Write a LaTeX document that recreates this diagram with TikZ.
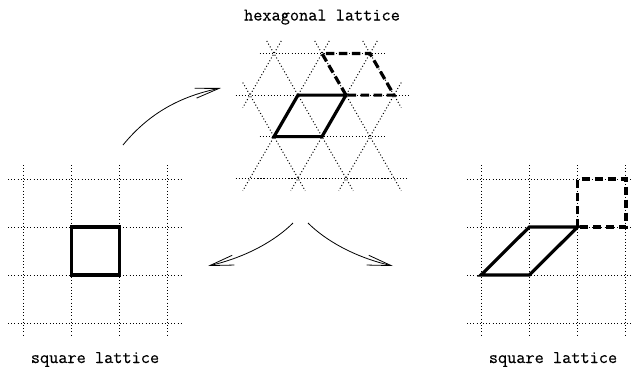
\documentclass[tikz,border=0pt]{standalone}
\usepackage{fontspec}
\setmonofont{Latin Modern Mono}[FakeBold=0.4]
\usetikzlibrary{arrows.meta,calc}
\newcommand\extline[2]{\draw[grid] ($(#1)!-14.5pt!(#2)$) -- ($(#2)!-14.5pt!(#1)$);}
\begin{document}
\begin{tikzpicture}[x=1pt,y=-1pt,
  grid/.style={line width=1pt, dash pattern=on 1pt off 2.2pt},
  gridb/.style={line width=1.3pt, dash pattern=on 1.3pt off 1.8pt},
  cell/.style={line width=3.2pt, line join=miter},
  dcell/.style={line width=3.2pt, dash pattern=on 8.5pt off 4.5pt},
  arr/.style={line width=0.8pt, -{Straight Barb[length=24pt,width=10pt]}},
  lbl/.style={font=\ttfamily\fontsize{17.8}{20}\selectfont, anchor=base, inner sep=0pt}]
\useasboundingbox (0,0) rectangle (633,367);

% left square lattice
\foreach \i in {0,...,3} {
  \draw[grid] ({23+48.3*\i},165) -- ({23+48.3*\i},337);
  \draw[grid] (8,{179+48*\i}) -- (181,{179+48*\i});
}
\coordinate (sqA) at (71.3,227);
\coordinate (sqB) at (119.6,275);
\draw[cell] (sqA) rectangle (sqB);

% right square lattice
\foreach \i in {0,...,3} {
  \draw[grid] ({481+48.3*\i},165) -- ({481+48.3*\i},337);
  \draw[grid] (467,{179+48*\i}) -- (633,{179+48*\i});
}
\coordinate (pA) at (481,275);
\coordinate (pB) at (529.3,275);
\coordinate (pC) at (577.6,227);
\coordinate (pD) at (529.3,227);
\coordinate (dA) at (577.6,179);
\coordinate (dB) at (625.9,179);
\coordinate (dC) at (625.9,227);
\draw[cell] (pA) -- (pB) -- (pC) -- (pD) -- cycle;
\draw[dcell] (pC) -- (dA) -- (dB) -- (dC) -- cycle;

% hexagonal lattice points
\foreach \x [count=\i from 0] in {274,322,370} {
  \coordinate (h0\i) at (\x,53.5);
  \coordinate (h2\i) at (\x,136.6);
}
\foreach \x [count=\i from 0] in {250,298,346,394} {
  \coordinate (h1\i) at (\x,95.1);
  \coordinate (h3\i) at (\x,178.2);
}
\extline{h00}{h02}
\extline{h10}{h13}
\extline{h20}{h22}
\draw[gridb] ($(h30)!-14.5pt!(h33)$) -- ($(h33)!-14.5pt!(h30)$);
\extline{h10}{h31}
\extline{h00}{h32}
\extline{h01}{h33}
\extline{h02}{h13}
\extline{h00}{h10}
\extline{h01}{h30}
\extline{h02}{h31}
\extline{h13}{h32}
\draw[cell] (h20) -- (h21) -- (h12) -- (h11) -- cycle;
\draw[dcell] (h12) -- (h01) -- (h02) -- (h13) -- cycle;

% arrows
\coordinate (a1s) at (123,145);
\coordinate (a1e) at (221,88);
\coordinate (a2s) at (293,223);
\coordinate (a2e) at (208,266);
\coordinate (a3s) at (308,223);
\coordinate (a3e) at (393,266);
\draw[arr] (a1s) .. controls (150,112) and (182,96) .. (a1e);
\draw[arr] (a2s) .. controls (276,240) and (247,257) .. (a2e);
\draw[arr] (a3s) .. controls (325,240) and (354,257) .. (a3e);

% labels
\node[lbl] (t1) at (322,20.5) {hexagonal lattice};
\node[lbl] (t2) at (95,363) {square lattice};
\node[lbl] (t3) at (553,363) {square lattice};
\end{tikzpicture}
\end{document}
